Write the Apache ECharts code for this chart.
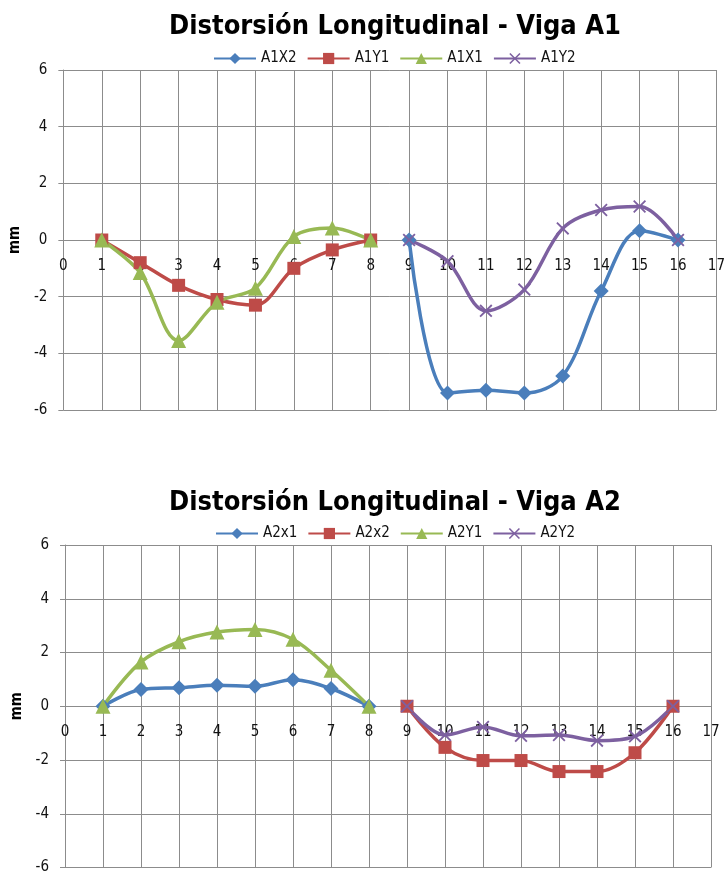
<!DOCTYPE html>
<html>
<head>
<meta charset="utf-8">
<script src="https://cdn.jsdelivr.net/npm/echarts@6/dist/echarts.min.js"></script>
<style>
html,body{margin:0;padding:0;background:#fff;}
#main{width:728px;height:875px;}
</style>
</head>
<body>
<div id="main"></div>
<script>
// ---- Data ----
const xLeft = [1, 2, 3, 4, 5, 6, 7, 8];
const xRight = [9, 10, 11, 12, 13, 14, 15, 16];
const yTicks = [-6, -4, -2, 0, 2, 4, 6];

// Chart 1: Viga A1
const title1 = 'Distorsión Longitudinal - Viga A1';
const A1X2 = [0, -5.4, -5.3, -5.4, -4.8, -1.8, 0.33, 0];     // x 9..16
const A1Y1 = [0, -0.8, -1.6, -2.1, -2.3, -1.0, -0.35, 0];    // x 1..8
const A1X1 = [0, -1.15, -3.55, -2.2, -1.7, 0.12, 0.42, 0];   // x 1..8
const A1Y2 = [0, -0.75, -2.5, -1.75, 0.41, 1.06, 1.18, 0];   // x 9..16

// Chart 2: Viga A2
const title2 = 'Distorsión Longitudinal - Viga A2';
const A2x1 = [0, 0.62, 0.69, 0.78, 0.74, 0.99, 0.66, 0];     // x 1..8
const A2x2 = [0, -1.53, -2.02, -2.02, -2.43, -2.43, -1.73, 0]; // x 9..16
const A2Y1 = [0, 1.65, 2.4, 2.76, 2.86, 2.49, 1.34, 0];      // x 1..8
const A2Y2 = [0, -1.07, -0.77, -1.1, -1.07, -1.28, -1.12, 0]; // x 9..16

const pairs = (xs, ys) => xs.map((x, i) => [x, ys[i]]);

const C_BLUE = '#4A7EBB', C_RED = '#BE4B48', C_GREEN = '#98B954', C_PURPLE = '#7D60A0';
const FONT = '"Liberation Sans Narrow", "DejaVu Sans Condensed", "Liberation Sans", sans-serif';
const XMARK = 'path://M0,1 L1,0 L5,4 L9,0 L10,1 L6,5 L10,9 L9,10 L5,6 L1,10 L0,9 L4,5 Z';
const GRIDC = '#8c8c8c';

function mkSeries(name, xs, ys, color, symbol, size, gi) {
  return {
    name, type: 'line', xAxisIndex: gi, yAxisIndex: gi,
    data: pairs(xs, ys), smooth: 0.34, smoothConstraint: false,
    symbol, symbolSize: size, showSymbol: true,
    lineStyle: { color, width: 3.5 },
    itemStyle: { color },
    emphasis: { disabled: true },
    animation: false
  };
}

function xAxis(gi, off) {
  return {
    type: 'value', gridIndex: gi, min: 0, max: 17, interval: 1,
    position: 'bottom', offset: off,
    axisLine: { show: true, onZero: false, lineStyle: { color: GRIDC, width: 1 } },
    axisTick: { show: false },
    axisLabel: { color: '#111', fontSize: 15, fontFamily: FONT, margin: 19 },
    splitLine: { show: true, lineStyle: { color: GRIDC, width: 1 } }
  };
}
function yAxis(gi, gap) {
  return {
    type: 'value', gridIndex: gi, min: yTicks[0], max: yTicks[yTicks.length - 1], interval: 2,
    name: 'mm', nameLocation: 'middle', nameGap: gap,
    nameTextStyle: { color: '#000', fontSize: 15, fontWeight: 'bold', fontFamily: FONT },
    axisLine: { show: true, onZero: false, lineStyle: { color: GRIDC, width: 1 } },
    axisTick: { show: true, length: 5, lineStyle: { color: GRIDC } },
    axisLabel: { color: '#111', fontSize: 15, fontFamily: FONT, margin: 16 },
    splitLine: { show: true, lineStyle: { color: GRIDC, width: 1 } }
  };
}

const chart = echarts.init(document.getElementById('main'), null, { renderer: 'canvas' });
chart.setOption({
  animation: false,
  backgroundColor: '#fff',
  title: [
    { text: title1, left: 390, top: 8, textAlign: 'center',
      textStyle: { fontSize: 27, fontWeight: 'bold', color: '#000', fontFamily: FONT } },
    { text: title2, left: 390, top: 484, textAlign: 'center',
      textStyle: { fontSize: 27, fontWeight: 'bold', color: '#000', fontFamily: FONT } }
  ],
  legend: [
    { data: ['A1X2', 'A1Y1', 'A1X1', 'A1Y2'], left: 208, top: 46, itemWidth: 42, itemHeight: 14, itemGap: 10,
      textStyle: { fontSize: 15, color: '#111', fontFamily: FONT } },
    { data: ['A2x1', 'A2x2', 'A2Y1', 'A2Y2'], left: 210, top: 521, itemWidth: 42, itemHeight: 14, itemGap: 10,
      textStyle: { fontSize: 15, color: '#111', fontFamily: FONT } }
  ],
  grid: [
    { left: 61, top: 70, width: 656, height: 340 },
    { left: 65, top: 545, width: 646, height: 323 }
  ],
  xAxis: [xAxis(0, -170), xAxis(1, -161.5)],
  yAxis: [yAxis(0, 32), yAxis(1, 35)],
  series: [
    mkSeries('A1X2', xRight, A1X2, C_BLUE, 'diamond', 15, 0),
    mkSeries('A1Y1', xLeft, A1Y1, C_RED, 'rect', 13, 0),
    mkSeries('A1X1', xLeft, A1X1, C_GREEN, 'triangle', 15, 0),
    mkSeries('A1Y2', xRight, A1Y2, C_PURPLE, XMARK, 13, 0),
    mkSeries('A2x1', xLeft, A2x1, C_BLUE, 'diamond', 15, 1),
    mkSeries('A2x2', xRight, A2x2, C_RED, 'rect', 13, 1),
    mkSeries('A2Y1', xLeft, A2Y1, C_GREEN, 'triangle', 15, 1),
    mkSeries('A2Y2', xRight, A2Y2, C_PURPLE, XMARK, 13, 1)
  ]
});
</script>
</body>
</html>
